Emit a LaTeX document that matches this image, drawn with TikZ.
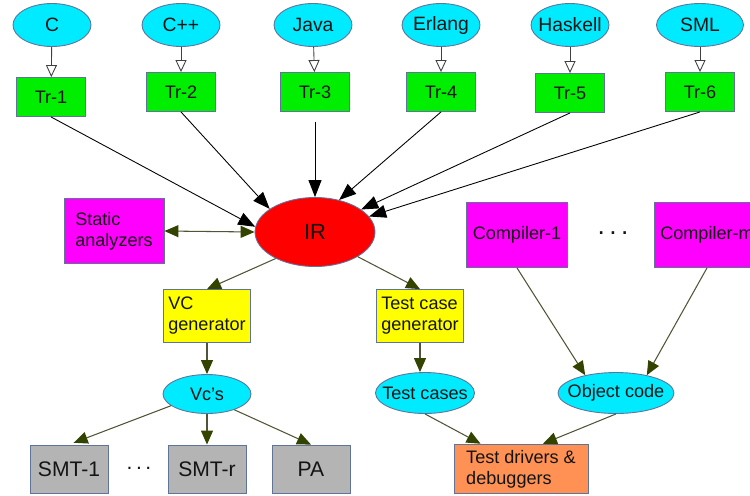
\documentclass[tikz,border=0pt]{standalone}
\usepackage{fontspec}
\setmainfont{Liberation Sans}
\usetikzlibrary{shapes.geometric,arrows.meta}
\definecolor{langcyan}{RGB}{0,235,255}
\definecolor{trgreen}{RGB}{0,238,0}
\definecolor{irred}{RGB}{255,0,0}
\definecolor{toolmag}{RGB}{255,0,255}
\definecolor{genyellow}{RGB}{255,255,0}
\definecolor{drvorange}{RGB}{255,145,85}
\definecolor{smtgray}{RGB}{180,180,180}
\definecolor{edgeblue}{RGB}{95,115,155}
\definecolor{arrolive}{RGB}{51,68,0}
\definecolor{lineolive}{RGB}{80,85,55}
\definecolor{txtdark}{RGB}{20,20,20}

\begin{document}
\begin{tikzpicture}[x=0.02cm,y=-0.02cm,
  every node/.style={text=txtdark},
  lang/.style={ellipse,draw=edgeblue,line width=0.5pt,fill=langcyan,inner xsep=-5pt,inner ysep=0pt,
    minimum width=1.56cm,minimum height=0.86cm,font=\fontsize{11}{13}\selectfont},
  oval/.style={ellipse,draw=edgeblue,line width=0.5pt,fill=langcyan,inner xsep=-5pt,inner ysep=0pt,
    minimum height=0.82cm,font=\fontsize{10.3}{12}\selectfont},
  trbox/.style={rectangle,draw=edgeblue,line width=0.5pt,fill=trgreen,
    minimum width=1.38cm,minimum height=0.78cm,font=\fontsize{10.3}{12}\selectfont},
  toolbox/.style={rectangle,draw=edgeblue,line width=0.5pt,fill=toolmag,align=left,
    minimum width=2cm,minimum height=1.3cm,font=\fontsize{10.3}{12}\selectfont},
  genbox/.style={rectangle,draw=edgeblue,line width=0.5pt,fill=genyellow,align=left,inner xsep=2pt,
    minimum width=1.74cm,minimum height=1.06cm,font=\fontsize{10.3}{12}\selectfont},
  smtbox/.style={rectangle,draw=edgeblue,line width=0.5pt,fill=smtgray,
    minimum width=1.56cm,minimum height=0.96cm,font=\fontsize{12}{14}\selectfont},
  openarr/.style={draw=black!75,line width=0.5pt,-{Triangle[length=0.24cm,width=0.22cm,fill=white]}},
  blkarr/.style={draw=black,line width=0.5pt,-{Triangle[length=0.34cm,width=0.26cm]}},
  grnarr/.style={draw=lineolive,line width=0.6pt,-{Triangle[length=0.28cm,width=0.24cm,color=arrolive]}},
  biarr/.style={draw=lineolive,line width=0.6pt,
    {Triangle[length=0.28cm,width=0.24cm,color=arrolive]}-{Triangle[length=0.28cm,width=0.24cm,color=arrolive]}}]
\useasboundingbox (0,0) rectangle (750,495);
\clip (0,0) rectangle (750,495);
\node[lang] (c) at (52,25) {C};
\node[lang] (cpp) at (181,25) {C++};
\node[lang] (java) at (313,25) {Java};
\node[lang] (erlang) at (441,25) {Erlang};
\node[lang] (haskell) at (570,25) {Haskell};
\node[lang,minimum width=1.74cm] (sml) at (700,25) {SML};
\node[trbox] (tr1) at (51,97) {Tr-1};
\node[trbox] (tr2) at (181,92) {Tr-2};
\node[trbox] (tr3) at (315,92) {Tr-3};
\node[trbox] (tr4) at (441,92) {Tr-4};
\node[trbox] (tr5) at (570,93) {Tr-5};
\node[trbox] (tr6) at (700,92) {Tr-6};
\draw[openarr] (c) -- (tr1);
\draw[openarr] (cpp) -- (tr2);
\draw[openarr] (java) -- (tr3);
\draw[openarr] (erlang) -- (tr4);
\draw[openarr] (haskell) -- (tr5);
\draw[openarr] (sml) -- (tr6);
\node[ellipse,draw=edgeblue,line width=0.5pt,fill=irred,minimum width=2.4cm,minimum height=1.38cm,
  font=\fontsize{12.5}{14}\selectfont] (ir) at (315,232) {IR};
\node[toolbox] (sa) at (114,231) {Static\\analyzers};
\node[toolbox] (c1) at (517,235) {Compiler-1};
\node[toolbox] (cm) at (707,235) {Compiler-m};
\node[font=\fontsize{15}{15}\selectfont] (cdots) at (613,233) {.\,.\,.};
\node[genbox] (vcg) at (207,316) {VC\\generator};
\node[genbox] (tcg) at (420,316) {Test case\\generator};
\node[oval,minimum width=1.76cm,minimum height=0.78cm] (vcs) at (207,394) {Vc's};
\node[oval,minimum width=1.98cm] (tc) at (425,393) {Test cases};
\node[oval,minimum width=2.32cm] (oc) at (616,393) {Object code};
\node[smtbox] (smt1) at (69,469) {SMT-1};
\node[font=\fontsize{12}{14}\selectfont] (sdots) at (139,468) {.\,.\,.};
\node[smtbox] (smtr) at (207,469) {SMT-r};
\node[smtbox] (pa) at (311,469) {PA};
\node[rectangle,draw=edgeblue,line width=0.5pt,fill=drvorange,align=left,
  minimum width=2.68cm,minimum height=0.96cm,font=\fontsize{10.3}{12}\selectfont] (td) at (521,469) {Test drivers \&\\debuggers};
\draw[blkarr] (tr1.south) -- (ir.175);
\draw[blkarr] (tr2.south) -- (ir.153);
\draw[blkarr,shorten <=0.2cm] (tr3.south) -- (ir.north);
\draw[blkarr] (tr4.south) -- (ir.53);
\draw[blkarr] (tr5.south) -- (ir.26);
\draw[blkarr] (tr6.south) -- (ir.16);
\draw[biarr] (sa.east) -- (ir.west);
\draw[grnarr] (ir.214) -- (vcg.north);
\draw[grnarr] (ir.-30) -- (tcg.north);
\draw[grnarr] (vcg) -- (vcs);
\draw[grnarr] (tcg.south) -- (tcg.south |- tc.north);
\draw[grnarr] (c1.south) -- (oc.150);
\draw[grnarr] (cm.south) -- (oc.30);
\draw[grnarr,shorten >=0.1cm] (vcs.198) -- (smt1.north);
\draw[grnarr] (vcs) -- (smtr);
\draw[grnarr] (vcs.-30) -- (pa.north);
\draw[grnarr] (tc.south) -- (td.148);
\draw[grnarr] (oc.south) -- (td.49);
\end{tikzpicture}
\end{document}
